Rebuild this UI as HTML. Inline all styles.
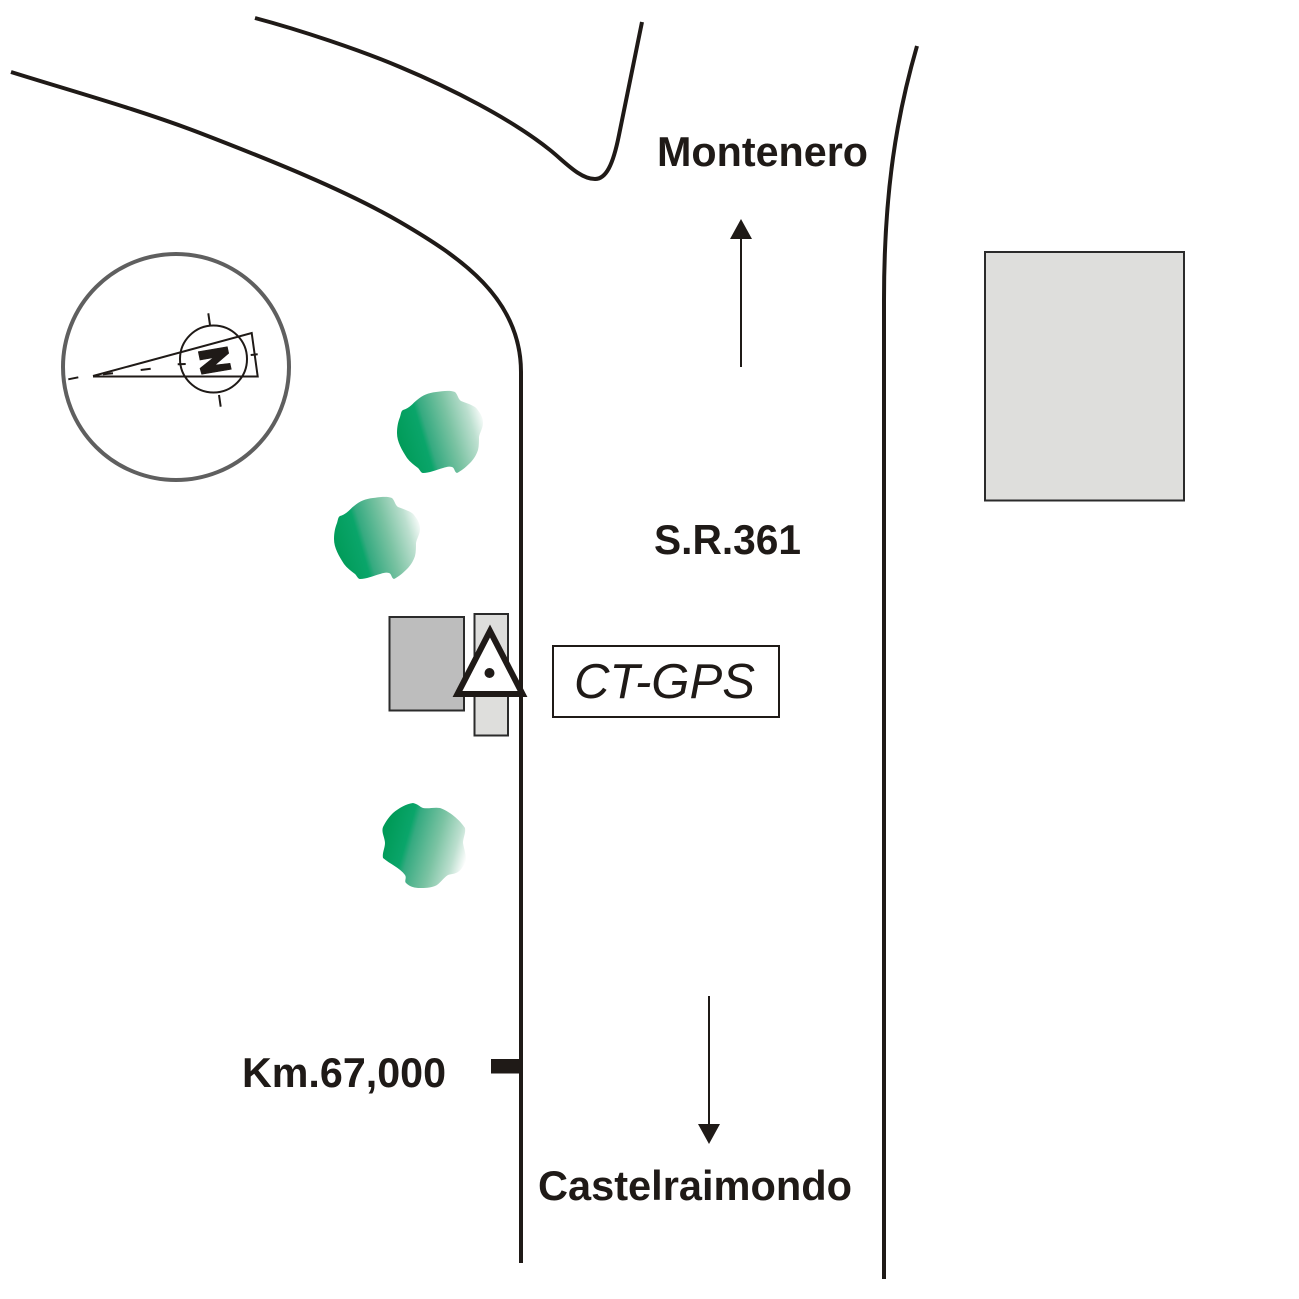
<!DOCTYPE html>
<html><head><meta charset="utf-8"><style>
html,body{margin:0;padding:0;background:#fff}
svg{display:block}
text{font-family:"Liberation Sans",sans-serif;fill:#1f1a17}
.b{font-weight:bold;font-size:41.300px}
</style></head><body>
<svg width="1299" height="1299" viewBox="0 0 1299 1299" xmlns="http://www.w3.org/2000/svg">
<defs>
<linearGradient id="g1" gradientUnits="userSpaceOnUse" x1="397" y1="445" x2="484" y2="419">
<stop offset="0" stop-color="#009a57"/><stop offset=".3" stop-color="#0aa56a"/><stop offset=".36" stop-color="#35aa80"/><stop offset=".62" stop-color="#7bc3a3"/><stop offset=".85" stop-color="#bcdfcf"/><stop offset="1" stop-color="#fbfdfc"/>
</linearGradient>
<linearGradient id="g3" gradientUnits="userSpaceOnUse" x1="385" y1="835" x2="466" y2="858">
<stop offset="0" stop-color="#009a57"/><stop offset=".26" stop-color="#0aa56a"/><stop offset=".33" stop-color="#35aa80"/><stop offset=".62" stop-color="#7bc3a3"/><stop offset=".85" stop-color="#bcdfcf"/><stop offset="1" stop-color="#fbfdfc"/>
</linearGradient>
<path id="tree" d="M403 410C410 408 413 403 417 400C423 395 428 393 436 392C443 391 450 390 455 392C458 395 458 399 461 401C469 404 475 406 477 409C481 414 483 418 483 423C483 428 480 432 479 437C479 441 479 446 478 450C476 456 473 460 470 463C465 468 461 471 457 473C454 472 455 468 452 467C449 466 446 467 443 468C436 470 429 473 423 473C421 473 420 470 418 468C414 465 410 462 407 458C402 450 397 442 397 433C397 427 398 422 400 417C401 414 401 411 403 410Z" fill="url(#g1)"/>
</defs>
<g fill="none" stroke="#1f1a17" stroke-width="4">
<path d="M11 72C75 92 140 110 200 133C270 160 345 190 400 222C460 257 521 298 521 372V1263"/>
<path d="M255 18C300 30 360 50 400 67C450 88 510 118 550 150C565 162 580 179 595 179C606 179 613 165 619 135L642 22"/>
<path d="M917 46C897 115 884 190 884 300V1279"/>
</g>
<path d="M741 367V235" stroke="#1f1a17" stroke-width="2"/>
<path d="M741 219L752 239H730Z" fill="#1f1a17"/>
<path d="M709 996V1126" stroke="#1f1a17" stroke-width="2"/>
<path d="M709 1144L698 1124H720Z" fill="#1f1a17"/>
<rect x="985" y="252" width="199" height="248.500" fill="#dededc" stroke="#2b2b2b" stroke-width="2"/>
<circle cx="176" cy="367" r="113" fill="#fff" stroke="#5f5f5f" stroke-width="4"/>
<g fill="none" stroke="#1f1a17" stroke-width="2">
<path d="M93 376L251.700 333L257.700 376.500H93"/>
<circle cx="213.500" cy="359" r="33.500"/>
<path d="M208.300 313.300L210 325M219 395L220.700 406.700M177.700 364.300L185.700 364M250.700 355L257.700 354.300M68.300 379.300L78.300 377.300M140.700 370L150.700 368.700M103 374.300L113 373.300"/>
</g>
<path d="M198.300 351.700L227.300 346.700L228.700 353.300L215 365L230 363.300L231.300 369.300L201.700 374.300L200 368.300L213.300 357.700L200 360Z" fill="#1f1a17" stroke="#1f1a17" stroke-width=".6"/>
<use href="#tree"/>
<use href="#tree" transform="translate(-63 106)"/>
<path d="M383 827C386 821 389 817 393 813C399 808 406 804 413 803C418 804 420 807 423 808C429 809 434 807 440 808C449 811 460 820 465 828C466 833 463 838 463 843C464 849 466 854 466 860C464 866 461 870 458 872C455 874 451 874 448 875C443 878 440 884 435 886C430 888 425 888 420 888C415 888 410 887 406 883C404 881 407 878 405 875C400 868 390 864 383 858C382 853 385 848 385 843C385 838 381 832 383 827Z" fill="url(#g3)"/>
<rect x="389.500" y="617" width="74.500" height="93.500" fill="#bdbdbd" stroke="#2b2b2b" stroke-width="2"/>
<rect x="474.500" y="614" width="33.500" height="121.500" fill="#dededc" stroke="#2b2b2b" stroke-width="2"/>
<path d="M490 631L522.500 694H457.500Z" fill="#fff" stroke="#1f1a17" stroke-width="6"/>
<circle cx="489.500" cy="673" r="5" fill="#1f1a17"/>
<rect x="553" y="646" width="226" height="71" fill="#fff" stroke="#1f1a17" stroke-width="2"/>
<text x="574" y="698" font-size="49" font-style="italic" textLength="181" lengthAdjust="spacingAndGlyphs">CT-GPS</text>
<text class="b" x="657" y="166" textLength="211" lengthAdjust="spacingAndGlyphs">Montenero</text>
<text class="b" x="654" y="554" textLength="147" lengthAdjust="spacingAndGlyphs">S.R.361</text>
<text class="b" x="242" y="1087" textLength="204" lengthAdjust="spacingAndGlyphs">Km.67,000</text>
<text class="b" x="538" y="1200" textLength="314" lengthAdjust="spacingAndGlyphs">Castelraimondo</text>
<rect x="491" y="1059" width="30" height="14.500" fill="#1f1a17"/>
</svg>
</body></html>
